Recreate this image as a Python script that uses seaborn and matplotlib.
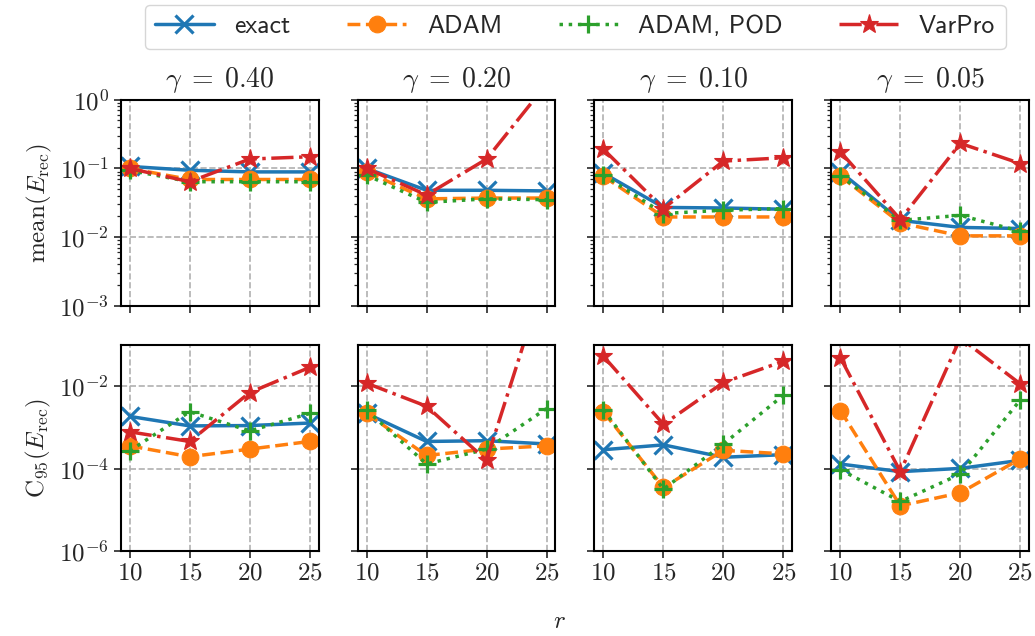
import numpy as np
import pandas as pd
import matplotlib
matplotlib.use('Agg')
import matplotlib.pyplot as plt
import matplotlib.ticker as mticker
import seaborn as sns

sns.set_style('ticks')
plt.rcParams['font.family'] = 'serif'
plt.rcParams['font.serif'] = ['cmr10', 'DejaVu Serif']
plt.rcParams['mathtext.fontset'] = 'cm'
plt.rcParams['axes.formatter.use_mathtext'] = True

# ranks on the x axis and noise levels per column
r = [10, 15, 20, 25]
gammas = ['0.40', '0.20', '0.10', '0.05']

# mean(E_rec), one row per gamma
exact_mean = [[0.107, 0.094, 0.089, 0.089],
              [0.100, 0.048, 0.048, 0.047],
              [0.085, 0.027, 0.0265, 0.0254],
              [0.089, 0.0175, 0.0138, 0.0133]]
adam_mean = [[0.100, 0.069, 0.069, 0.069],
             [0.089, 0.036, 0.037, 0.037],
             [0.077, 0.0196, 0.0196, 0.0196],
             [0.077, 0.016, 0.0104, 0.0104]]
pod_mean = [[0.094, 0.064, 0.064, 0.064],
            [0.080, 0.032, 0.036, 0.035],
            [0.080, 0.022, 0.0246, 0.026],
            [0.078, 0.0175, 0.0207, 0.0121]]
varpro_mean = [[0.100, 0.064, 0.137, 0.148],
               [0.100, 0.041, 0.137, 1.7],
               [0.190, 0.026, 0.128, 0.143],
               [0.175, 0.018, 0.232, 0.118]]

# C95(E_rec), one row per gamma
exact_c95 = [[1.87e-3, 1.1e-3, 1.12e-3, 1.29e-3],
             [2.2e-3, 4.6e-4, 4.8e-4, 4.0e-4],
             [2.9e-4, 3.8e-4, 1.9e-4, 2.2e-4],
             [1.3e-4, 8.5e-5, 1.02e-4, 1.6e-4]]
adam_c95 = [[3.6e-4, 1.96e-4, 3.0e-4, 4.6e-4],
            [2.2e-3, 2.1e-4, 3.0e-4, 3.6e-4],
            [2.4e-3, 3.5e-5, 2.8e-4, 2.3e-4],
            [2.6e-3, 1.26e-5, 2.6e-5, 1.74e-4]]
pod_c95 = [[2.73e-4, 2.43e-3, 8.3e-4, 2.2e-3],
           [2.66e-3, 1.3e-4, 3.0e-4, 2.9e-3],
           [2.66e-3, 3.2e-5, 4.0e-4, 6.1e-3],
           [9.5e-5, 1.6e-5, 7.4e-5, 4.7e-3]]
varpro_c95 = [[7.9e-4, 4.6e-4, 7.1e-3, 2.9e-2],
              [1.2e-2, 3.3e-3, 1.6e-4, 6.0],
              [5.4e-2, 1.2e-3, 1.25e-2, 4.1e-2],
              [5.0e-2, 8.5e-5, 0.15, 1.15e-2]]

methods = ['exact', 'ADAM', 'ADAM, POD', 'VarPro']
colors = ['#1f77b4', '#ff7f0e', '#2ca02c', '#d62728']
markers = ['x', 'o', '+', '*']
linestyles = ['-', '--', ':', '-.']
msizes = [13, 12, 13, 14]

fig, axes = plt.subplots(2, 4, figsize=(10.35, 6.36), dpi=100, sharex=True, sharey='row')
fig.subplots_adjust(left=0.1166, right=0.9945, top=0.843, bottom=0.1336, wspace=0.197, hspace=0.193)

rows = [[exact_mean, adam_mean, pod_mean, varpro_mean],
        [exact_c95, adam_c95, pod_c95, varpro_c95]]

for i in range(2):
    for j in range(4):
        ax = axes[i, j]
        for k in range(4):
            sns.lineplot(x=r, y=rows[i][k][j], ax=ax, color=colors[k], marker=markers[k],
                         linestyle=linestyles[k], linewidth=2.5, markersize=msizes[k],
                         markeredgewidth=2.3 if markers[k] in ('x', '+') else 0.8,
                         markeredgecolor=colors[k], label=methods[k], legend=False)
        ax.set_yscale('log')
        ax.grid(True, which='major', color='#b0b0b0', linestyle='--', linewidth=1.2)
        ax.tick_params(direction='out', labelsize=18, width=1.2, length=5)
        ax.tick_params(which='minor', direction='out', width=0.9, length=3)
        for s in ax.spines.values():
            s.set_linewidth(1.5)
            s.set_color('black')
        if i == 0:
            ax.set_title(r'$\gamma \;=\; ' + gammas[j] + '$', fontsize=20, pad=9)

for ax in axes[0]:
    ax.set_ylim(1e-3, 1e0)
for ax in axes[1]:
    ax.set_ylim(1e-6, 1e-1)
    ax.set_yticks([1e-6, 1e-4, 1e-2])
    ax.yaxis.set_minor_locator(mticker.NullLocator())
    ax.set_xticks(r)

axes[0, 0].set_ylabel(r'$\mathrm{mean}(E_{\mathrm{rec}})$', fontsize=18, labelpad=4)
axes[1, 0].set_ylabel(r'$\mathrm{C}_{95}(E_{\mathrm{rec}})$', fontsize=18, labelpad=4)
fig.text(0.541, 0.012, r'$r$', fontsize=18, ha='center')

handles, labels = axes[0, 0].get_legend_handles_labels()
fig.legend(handles, labels, loc='upper center', bbox_to_anchor=(0.5556, 1.0), ncol=4,
           prop={'family': ['cmss10', 'DejaVu Sans'], 'size': 18.5}, frameon=True, fancybox=True,
           columnspacing=2.2, handlelength=2.3, borderaxespad=0.2)

fig.savefig('out.png', dpi=100)
